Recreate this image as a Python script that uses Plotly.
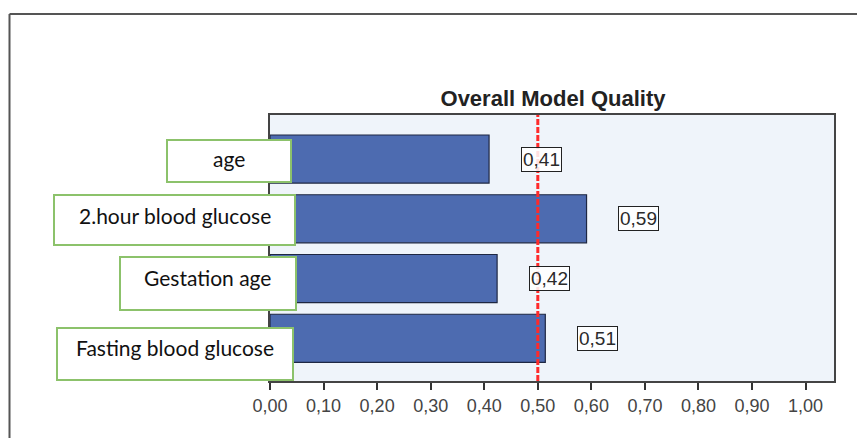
import plotly.graph_objects as go

# ---- data ----
categories = ["age", "2.hour blood glucose", "Gestation age", "Fasting blood glucose"]
quality = [0.409, 0.591, 0.424, 0.514]
threshold = 0.5
tick_values = [0.0, 0.1, 0.2, 0.3, 0.4, 0.5, 0.6, 0.7, 0.8, 0.9, 1.0]
title_text = "Overall Model Quality"

# ---- style / layout helpers ----
W, H = 857, 438
ML, MR, MT, MB = 270, 23, 115, 57
PW = W - ML - MR
PH = H - MT - MB

def px_to_paper_x(px):
    return (px - ML) / PW

def px_to_paper_y(py):
    return (H - MB - py) / PH

bar_color = "#4d6bb0"
bar_edge = "#1e2742"
green = "#8cc26b"

fig = go.Figure()
fig.add_trace(go.Bar(
    x=quality, y=categories, orientation="h",
    marker=dict(color=bar_color, line=dict(color=bar_edge, width=1.2)),
    hoverinfo="skip", showlegend=False,
))

# value label boxes
for c, v in zip(categories, quality):
    fig.add_annotation(
        x=v, y=c, xref="x", yref="y", xshift=52,
        text=f"{v:.2f}".replace(".", ","), showarrow=False,
        font=dict(family="Liberation Sans, Arial", size=19, color="#2a2a2a"),
        bordercolor="#222", borderwidth=1, borderpad=1,
        bgcolor="rgba(255,255,255,0.85)", xanchor="center", yanchor="middle",
    )

# green category label boxes (right edge px, box y shift, text y shift, width, height)
box_style = [
    (292.3, -1.5, 1.0, 122, 40),
    (296.0, -1.5, 3.5, 239, 48),
    (296.7, -5.0, 1.0, 174, 51),
    (294.0, -15.7, -9.2, 234, 50),
]
for c, (rx, ys, ts, bw, bh) in zip(categories, box_style):
    fig.add_annotation(
        x=px_to_paper_x(rx), y=c, xref="paper", yref="y", yshift=ys,
        xanchor="right", yanchor="middle",
        text=" ", showarrow=False, width=bw, height=bh,
        bordercolor=green, borderwidth=2, borderpad=0, bgcolor="white",
    )
    fig.add_annotation(
        x=px_to_paper_x(rx - bw / 2 - 2), y=c, xref="paper", yref="y", yshift=ts,
        xanchor="center", yanchor="middle",
        text=c, showarrow=False,
        font=dict(family="Lato, Open Sans", size=21, color="#111"),
    )

# reference line
fig.add_shape(type="line", xref="x", yref="paper", x0=threshold, x1=threshold,
              y0=0, y1=1, line=dict(color="#ff2a2a", width=3, dash="6px,2px"))

# outer frame lines
fx0 = px_to_paper_x(9.5)
fx1 = px_to_paper_x(857)
fy_top = px_to_paper_y(14)
fy_bot = px_to_paper_y(438)
fig.add_shape(type="line", xref="paper", yref="paper", x0=fx0, x1=fx1,
              y0=fy_top, y1=fy_top, line=dict(color="#555", width=2))
fig.add_shape(type="line", xref="paper", yref="paper", x0=fx0, x1=fx0,
              y0=fy_top, y1=fy_bot, line=dict(color="#555", width=2))

fig.update_layout(
    width=W, height=H,
    margin=dict(l=ML, r=MR, t=MT, b=MB),
    paper_bgcolor="white",
    plot_bgcolor="#eff4fa",
    separators=",.",
    bargap=0.196,
    title=dict(text=f"<b>{title_text}</b>", x=px_to_paper_x(553), xref="paper",
               xanchor="center", y=1 - 98 / H, yref="container", yanchor="middle",
               font=dict(family="Liberation Sans, Arial", size=22, color="#222")),
    xaxis=dict(range=[0, 1.053], tickvals=tick_values, tickformat=".2f",
               showgrid=False, zeroline=False, showline=True, linecolor="#444",
               linewidth=2, mirror=True, ticks="outside", ticklen=7,
               tickcolor="#333", tickwidth=1.5,
               tickfont=dict(family="Liberation Sans, Arial", size=18, color="#444")),
    yaxis=dict(categoryorder="array", categoryarray=categories,
               range=[3.715, -0.737], showgrid=False, zeroline=False,
               showline=True, linecolor="#444", linewidth=2, mirror=True,
               showticklabels=False, ticks=""),
)

fig.write_html("out.html", config={"displayModeBar": False},
               post_script="document.body.style.margin='0';")
